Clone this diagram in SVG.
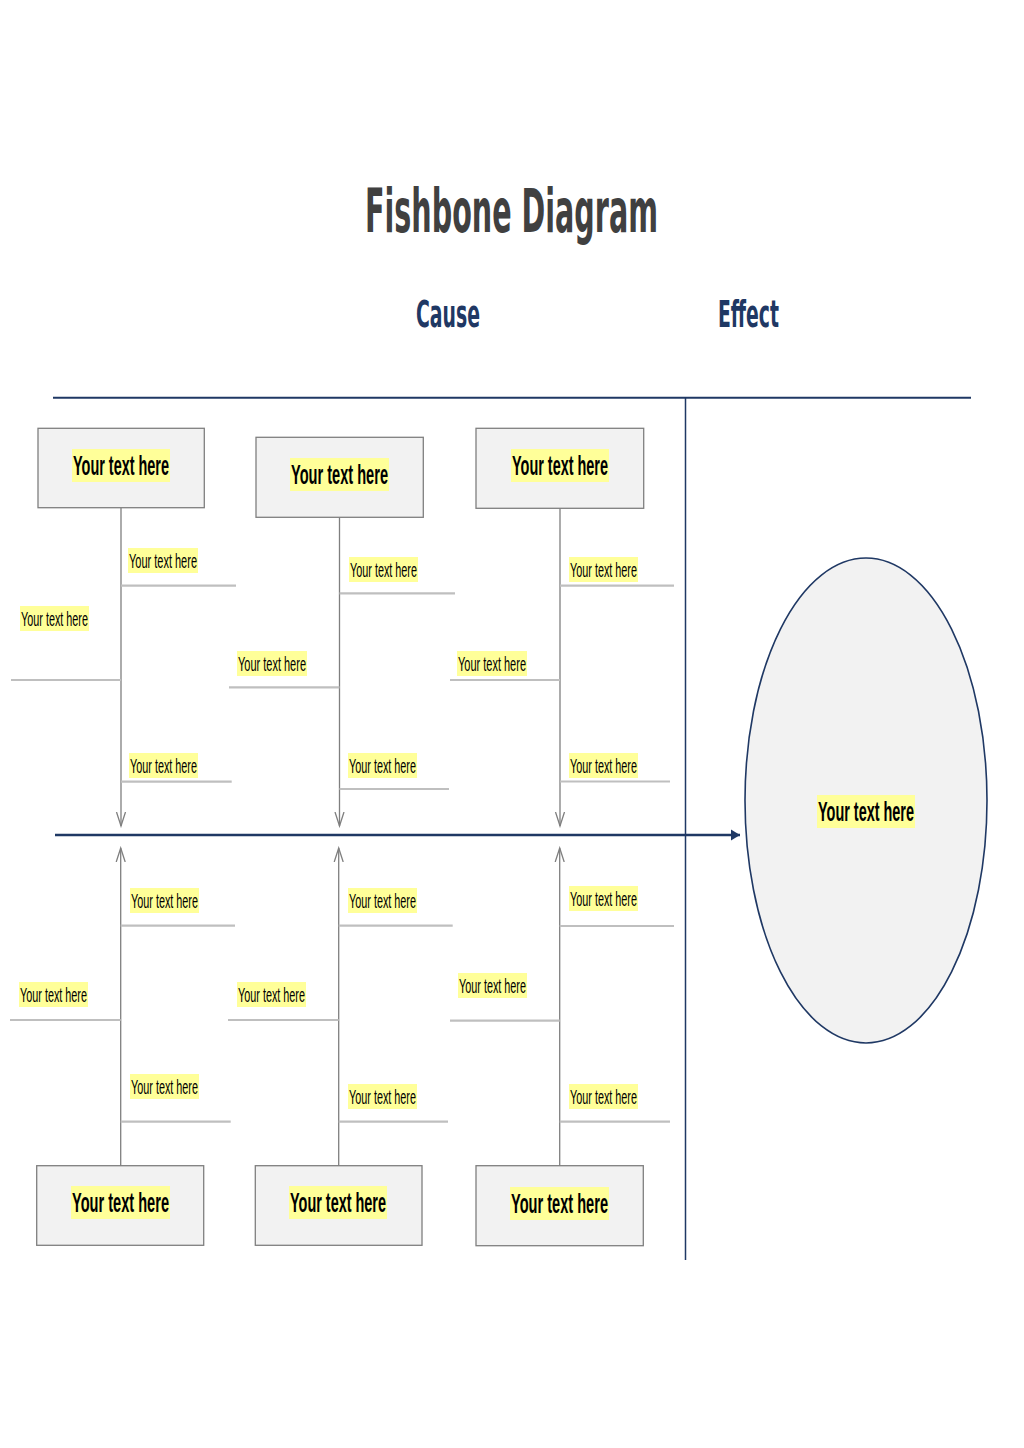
<svg xmlns="http://www.w3.org/2000/svg" width="1024" height="1448" viewBox="0 0 1024 1448">
<style>
.bg{fill:#ffffff}
.box{fill:#f2f2f2;stroke:#7f7f7f;stroke-width:1.3}
.hl{fill:#ffff99}
.big{font-family:"Liberation Sans",Arial,sans-serif;font-weight:bold;font-size:28px;fill:#000000}
.sm{font-family:"Liberation Sans",Arial,sans-serif;font-size:20px;fill:#000000}
.title{font-family:"DejaVu Sans Condensed","DejaVu Sans",sans-serif;font-weight:bold;font-stretch:condensed;font-size:60px;fill:#404040}
.head{font-family:"DejaVu Sans Condensed","DejaVu Sans",sans-serif;font-weight:bold;font-stretch:condensed;font-size:38px;fill:#1f3864}
.navy{stroke:#1f3864;fill:none}
.spine{stroke:#7f7f7f;stroke-width:1.3;fill:none}
.branch{stroke:#bfbfbf;stroke-width:2.2;fill:none}
</style>
<defs>
<marker id="vArrow" markerUnits="userSpaceOnUse" markerWidth="16" markerHeight="12" refX="14" refY="5" orient="auto" viewBox="0 0 16 10">
<path d="M0,0.5 L14,5 L0,9.5" fill="none" stroke="#7f7f7f" stroke-width="1.3"/>
</marker>
<marker id="mainArrow" markerUnits="userSpaceOnUse" markerWidth="10" markerHeight="12" refX="9" refY="6" orient="auto" viewBox="0 0 10 12">
<path d="M0,0.5 L9,6 L0,11.5 z" fill="#1f3864"/>
</marker>
</defs>
<rect class="bg" x="0" y="0" width="1024" height="1448"/>

<g id="title">
<text class="title" x="511.5" y="232" text-anchor="middle" textLength="293" lengthAdjust="spacingAndGlyphs">Fishbone Diagram</text>
</g>
<g id="cause-heading">
<text class="head" x="448" y="327" text-anchor="middle" textLength="64" lengthAdjust="spacingAndGlyphs">Cause</text>
</g>
<g id="effect-heading">
<text class="head" x="748.5" y="327" text-anchor="middle" textLength="61" lengthAdjust="spacingAndGlyphs">Effect</text>
</g>

<g id="connectors">
<line class="navy" x1="53" y1="397.7" x2="971" y2="397.7" stroke-width="2"/>
<line class="navy" x1="685.5" y1="397.7" x2="685.5" y2="1260" stroke-width="1.5"/>
<line class="navy" x1="55" y1="835" x2="740" y2="835" stroke-width="2.5" marker-end="url(#mainArrow)"/>

<line class="spine" x1="121" y1="508" x2="121" y2="826" marker-end="url(#vArrow)"/>
<line class="spine" x1="339.5" y1="517" x2="339.5" y2="826" marker-end="url(#vArrow)"/>
<line class="spine" x1="560" y1="508" x2="560" y2="826" marker-end="url(#vArrow)"/>
<line class="spine" x1="120.7" y1="1166" x2="120.7" y2="848" marker-end="url(#vArrow)"/>
<line class="spine" x1="338.7" y1="1166" x2="338.7" y2="848" marker-end="url(#vArrow)"/>
<line class="spine" x1="559.7" y1="1166" x2="559.7" y2="848" marker-end="url(#vArrow)"/>

<line class="branch" x1="121" y1="585.7" x2="236" y2="585.7"/>
<line class="branch" x1="11" y1="680" x2="121" y2="680"/>
<line class="branch" x1="121" y1="781.7" x2="231.7" y2="781.7"/>
<line class="branch" x1="339.5" y1="593.3" x2="455" y2="593.3"/>
<line class="branch" x1="229" y1="687.3" x2="339.5" y2="687.3"/>
<line class="branch" x1="339.5" y1="789" x2="449" y2="789"/>
<line class="branch" x1="560" y1="585.7" x2="674" y2="585.7"/>
<line class="branch" x1="450" y1="680" x2="560" y2="680"/>
<line class="branch" x1="560" y1="781.5" x2="670" y2="781.5"/>

<line class="branch" x1="120.7" y1="925.7" x2="235" y2="925.7"/>
<line class="branch" x1="10" y1="1020" x2="120.7" y2="1020"/>
<line class="branch" x1="120.7" y1="1121.7" x2="230.7" y2="1121.7"/>
<line class="branch" x1="338.7" y1="925.7" x2="452.7" y2="925.7"/>
<line class="branch" x1="228" y1="1020" x2="338.7" y2="1020"/>
<line class="branch" x1="338.7" y1="1121.7" x2="448" y2="1121.7"/>
<line class="branch" x1="559.7" y1="926" x2="674" y2="926"/>
<line class="branch" x1="450" y1="1020.7" x2="559.7" y2="1020.7"/>
<line class="branch" x1="559.7" y1="1121.7" x2="670" y2="1121.7"/>
</g>

<g id="effect">
<ellipse cx="866" cy="800.5" rx="121" ry="242.5" fill="#f2f2f2" stroke="#1f3864" stroke-width="1.6"/>
<rect class="hl" x="817" y="795" width="98" height="33"/>
<text class="big" x="866" y="821" text-anchor="middle" textLength="96" lengthAdjust="spacingAndGlyphs">Your text here</text>
</g>

<g id="cause-top-1">
<rect class="box" x="38" y="428.3" width="166.3" height="79.4"/>
<rect class="hl" x="72" y="449" width="98" height="33"/>
<text class="big" x="121" y="475" text-anchor="middle" textLength="96" lengthAdjust="spacingAndGlyphs">Your text here</text>
</g>
<g id="cause-top-2">
<rect class="box" x="256" y="437.3" width="167.3" height="80"/>
<rect class="hl" x="290" y="458" width="99" height="33"/>
<text class="big" x="339.5" y="484" text-anchor="middle" textLength="97" lengthAdjust="spacingAndGlyphs">Your text here</text>
</g>
<g id="cause-top-3">
<rect class="box" x="476" y="428.3" width="167.7" height="80"/>
<rect class="hl" x="511" y="449" width="98" height="33"/>
<text class="big" x="560" y="475" text-anchor="middle" textLength="96" lengthAdjust="spacingAndGlyphs">Your text here</text>
</g>
<g id="cause-bottom-1">
<rect class="box" x="36.7" y="1165.7" width="167" height="79.6"/>
<rect class="hl" x="71" y="1186" width="99" height="33"/>
<text class="big" x="120.5" y="1212" text-anchor="middle" textLength="97" lengthAdjust="spacingAndGlyphs">Your text here</text>
</g>
<g id="cause-bottom-2">
<rect class="box" x="255.3" y="1165.7" width="166.7" height="79.6"/>
<rect class="hl" x="289" y="1186" width="98" height="33"/>
<text class="big" x="338" y="1212" text-anchor="middle" textLength="96" lengthAdjust="spacingAndGlyphs">Your text here</text>
</g>
<g id="cause-bottom-3">
<rect class="box" x="476" y="1165.7" width="167.3" height="80"/>
<rect class="hl" x="510" y="1187" width="99" height="33"/>
<text class="big" x="559.5" y="1213" text-anchor="middle" textLength="97" lengthAdjust="spacingAndGlyphs">Your text here</text>
</g>

<g id="sub-t1a"><rect class="hl" x="128" y="548" width="70" height="25"/><text class="sm" x="129" y="568" textLength="68" lengthAdjust="spacingAndGlyphs">Your text here</text></g>
<g id="sub-t1b"><rect class="hl" x="20" y="606" width="69" height="25"/><text class="sm" x="21" y="626" textLength="67" lengthAdjust="spacingAndGlyphs">Your text here</text></g>
<g id="sub-t1c"><rect class="hl" x="129" y="753" width="69" height="25"/><text class="sm" x="130" y="773" textLength="67" lengthAdjust="spacingAndGlyphs">Your text here</text></g>
<g id="sub-t2a"><rect class="hl" x="349" y="557" width="69" height="25"/><text class="sm" x="350" y="577" textLength="67" lengthAdjust="spacingAndGlyphs">Your text here</text></g>
<g id="sub-t2b"><rect class="hl" x="237" y="651" width="70" height="25"/><text class="sm" x="238" y="671" textLength="68" lengthAdjust="spacingAndGlyphs">Your text here</text></g>
<g id="sub-t2c"><rect class="hl" x="348" y="753" width="69" height="25"/><text class="sm" x="349" y="773" textLength="67" lengthAdjust="spacingAndGlyphs">Your text here</text></g>
<g id="sub-t3a"><rect class="hl" x="569" y="557" width="69" height="25"/><text class="sm" x="570" y="577" textLength="67" lengthAdjust="spacingAndGlyphs">Your text here</text></g>
<g id="sub-t3b"><rect class="hl" x="457" y="651" width="70" height="25"/><text class="sm" x="458" y="671" textLength="68" lengthAdjust="spacingAndGlyphs">Your text here</text></g>
<g id="sub-t3c"><rect class="hl" x="569" y="753" width="69" height="25"/><text class="sm" x="570" y="773" textLength="67" lengthAdjust="spacingAndGlyphs">Your text here</text></g>

<g id="sub-b1a"><rect class="hl" x="130" y="888" width="69" height="25"/><text class="sm" x="131" y="908" textLength="67" lengthAdjust="spacingAndGlyphs">Your text here</text></g>
<g id="sub-b1b"><rect class="hl" x="19" y="982" width="69" height="25"/><text class="sm" x="20" y="1002" textLength="67" lengthAdjust="spacingAndGlyphs">Your text here</text></g>
<g id="sub-b1c"><rect class="hl" x="130" y="1074" width="69" height="25"/><text class="sm" x="131" y="1094" textLength="67" lengthAdjust="spacingAndGlyphs">Your text here</text></g>
<g id="sub-b2a"><rect class="hl" x="348" y="888" width="69" height="25"/><text class="sm" x="349" y="908" textLength="67" lengthAdjust="spacingAndGlyphs">Your text here</text></g>
<g id="sub-b2b"><rect class="hl" x="237" y="982" width="69" height="25"/><text class="sm" x="238" y="1002" textLength="67" lengthAdjust="spacingAndGlyphs">Your text here</text></g>
<g id="sub-b2c"><rect class="hl" x="348" y="1084" width="69" height="25"/><text class="sm" x="349" y="1104" textLength="67" lengthAdjust="spacingAndGlyphs">Your text here</text></g>
<g id="sub-b3a"><rect class="hl" x="569" y="886" width="69" height="25"/><text class="sm" x="570" y="906" textLength="67" lengthAdjust="spacingAndGlyphs">Your text here</text></g>
<g id="sub-b3b"><rect class="hl" x="458" y="973" width="69" height="25"/><text class="sm" x="459" y="993" textLength="67" lengthAdjust="spacingAndGlyphs">Your text here</text></g>
<g id="sub-b3c"><rect class="hl" x="569" y="1084" width="69" height="25"/><text class="sm" x="570" y="1104" textLength="67" lengthAdjust="spacingAndGlyphs">Your text here</text></g>
</svg>
